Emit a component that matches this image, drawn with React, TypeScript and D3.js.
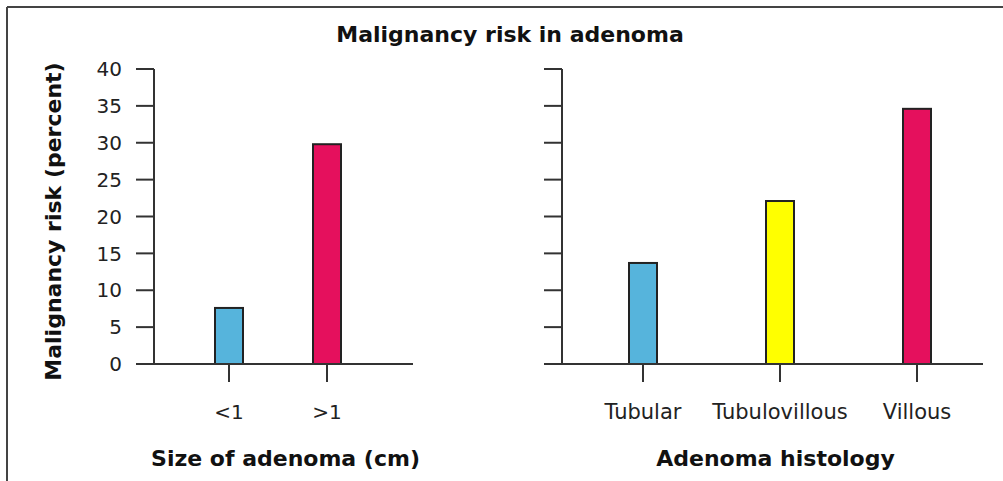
import React from "react";
import * as d3 from "d3";

const title = "Malignancy risk in adenoma";
const yTitle = "Malignancy risk (percent)";
const yTicks = [0, 5, 10, 15, 20, 25, 30, 35, 40];

const sizeCategories = ["<1", ">1"];
const sizeValues = [7.6, 29.8];
const sizeColors = ["#56B4DC", "#E5105D"];
const sizeTitle = "Size of adenoma (cm)";

const histCategories = ["Tubular", "Tubulovillous", "Villous"];
const histValues = [13.7, 22.1, 34.6];
const histColors = ["#56B4DC", "#FFFF00", "#E5105D"];
const histTitle = "Adenoma histology";

const W = 1003;
const H = 481;
const FONT = "'DejaVu Sans', Verdana, sans-serif";
const AX = "#333";

const y = d3.scaleLinear().domain([0, 40]).range([364, 69]);

type PanelProps = {
  axisX: number;
  axisEnd: number;
  catRange: [number, number];
  cats: string[];
  vals: number[];
  colors: string[];
  xTitle: string;
  showLabels: boolean;
  catFont: number;
};

function Panel({ axisX, axisEnd, catRange, cats, vals, colors, xTitle, showLabels, catFont }: PanelProps) {
  const x = d3.scalePoint<string>().domain(cats).range(catRange);
  const bw = 28;
  const tickLen = 18;
  return (
    <g>
      <line x1={axisX} x2={axisX} y1={y(40)} y2={y(0)} stroke={AX} strokeWidth={2} />
      {yTicks.map((t) => (
        <g key={t}>
          <line x1={axisX - tickLen} x2={axisX} y1={y(t)} y2={y(t)} stroke={AX} strokeWidth={2} />
          {showLabels && (
            <text x={axisX - 32} y={y(t)} dy="0.36em" textAnchor="end" fontSize={20} fill="#222" fontFamily={FONT}>
              {t}
            </text>
          )}
        </g>
      ))}
      {cats.map((c, i) => (
        <rect
          key={c}
          x={(x(c) as number) - bw / 2}
          y={y(vals[i])}
          width={bw}
          height={y(0) - y(vals[i])}
          fill={colors[i]}
          stroke="#222"
          strokeWidth={2}
        />
      ))}
      <line x1={axisX - tickLen} x2={axisEnd} y1={y(0)} y2={y(0)} stroke={AX} strokeWidth={2} />
      {cats.map((c) => (
        <g key={c}>
          <line x1={x(c)} x2={x(c)} y1={y(0)} y2={y(0) + 18} stroke={AX} strokeWidth={2} />
          <text x={x(c)} y={419} textAnchor="middle" fontSize={catFont} fill="#222" fontFamily={FONT}>
            {c}
          </text>
        </g>
      ))}
      <text
        x={(axisX + axisEnd) / 2 + (showLabels ? 2 : 3)}
        y={466}
        textAnchor="middle"
        fontSize={22}
        fontWeight="bold"
        fill="#111"
        fontFamily={FONT}
      >
        {xTitle}
      </text>
    </g>
  );
}

export default function App() {
  return (
    <svg width={W} height={H} style={{ position: "absolute", left: 0, top: 0, background: "#fff" }}>
      <rect x={0} y={0} width={W} height={H} fill="#fff" />
      <line x1={7} x2={W} y1={7} y2={7} stroke="#444" strokeWidth={2} />
      <line x1={7} x2={7} y1={7} y2={H} stroke="#444" strokeWidth={2} />
      <text x={510} y={42} textAnchor="middle" fontSize={22} fontWeight="bold" fill="#111" fontFamily={FONT}>
        {title}
      </text>
      <text
        transform={`translate(61,${(y(0) + y(40)) / 2 + 5}) rotate(-90)`}
        textAnchor="middle"
        fontSize={22}
        fontWeight="bold"
        fill="#111"
        fontFamily={FONT}
      >
        {yTitle}
      </text>
      <Panel
        axisX={154}
        axisEnd={413}
        catRange={[229, 327]}
        cats={sizeCategories}
        vals={sizeValues}
        colors={sizeColors}
        xTitle={sizeTitle}
        showLabels={true}
        catFont={20}
      />
      <Panel
        axisX={562}
        axisEnd={983}
        catRange={[643, 917]}
        cats={histCategories}
        vals={histValues}
        colors={histColors}
        xTitle={histTitle}
        showLabels={false}
        catFont={21}
      />
    </svg>
  );
}
